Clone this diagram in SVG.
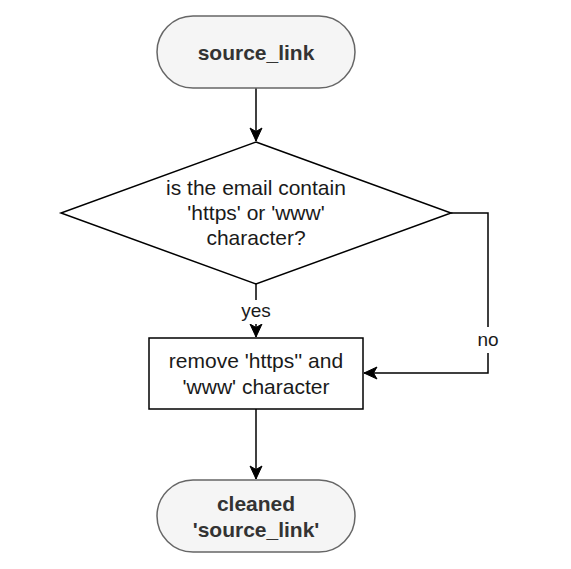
<svg xmlns="http://www.w3.org/2000/svg" width="571" height="569" viewBox="0 0 571 569">
<defs>
<style>
.term{fill:#f5f5f5;stroke:#666666;stroke-width:1.5}
.box{fill:#ffffff;stroke:#000000;stroke-width:1.5}
.t{font-family:"Liberation Sans",Arial,sans-serif;font-size:21px;text-anchor:middle;fill:#1a1a1a}
.tb{font-family:"Liberation Sans",Arial,sans-serif;font-size:21px;font-weight:bold;text-anchor:middle;fill:#333333}
.lbl{font-family:"Liberation Sans",Arial,sans-serif;font-size:19px;text-anchor:middle;fill:#1a1a1a}
.edge{fill:none;stroke:#000000;stroke-width:1.5}
</style>
<marker id="arr" markerUnits="userSpaceOnUse" markerWidth="16" markerHeight="16" viewBox="0 0 16 16" refX="14" refY="8" orient="auto">
<path d="M1,2 L14,8 L1,14 L4.5,8 Z" fill="#000000" stroke="#000000" stroke-width="1"/>
</marker>
</defs>
<rect width="571" height="569" fill="#ffffff"/>
<g id="connectors">
<path class="edge" d="M256,88 L256,141" marker-end="url(#arr)"/>
<path class="edge" d="M256,284 L256,337" marker-end="url(#arr)"/>
<rect x="234" y="300" width="44" height="24" fill="#ffffff"/>
<text class="lbl" x="256" y="317">yes</text>
<path class="edge" d="M451,213 L488,213 L488,373 L364,373" marker-end="url(#arr)"/>
<rect x="474" y="327" width="28" height="26" fill="#ffffff"/>
<text class="lbl" x="488" y="346">no</text>
<path class="edge" d="M256,409 L256,479" marker-end="url(#arr)"/>
</g>
<g id="source_link">
<rect class="term" x="157" y="16" width="198" height="72" rx="36" ry="36"/>
<text class="tb" x="256" y="59.5">source_link</text>
</g>
<g id="decision">
<polygon class="box" points="256,142 451,213 256,284 61,213"/>
<text class="t" x="256" y="194.5">is the email contain</text>
<text class="t" x="256" y="219.5">'https' or 'www'</text>
<text class="t" x="256" y="244.5">character?</text>
</g>
<g id="remove">
<rect class="box" x="149" y="338" width="214" height="71"/>
<text class="t" x="256" y="367.5">remove 'https'' and</text>
<text class="t" x="256" y="394">'www' character</text>
</g>
<g id="cleaned">
<rect class="term" x="157" y="480" width="198" height="72" rx="36" ry="36"/>
<text class="tb" x="256" y="511">cleaned</text>
<text class="tb" x="256" y="537">'source_link'</text>
</g>
</svg>
